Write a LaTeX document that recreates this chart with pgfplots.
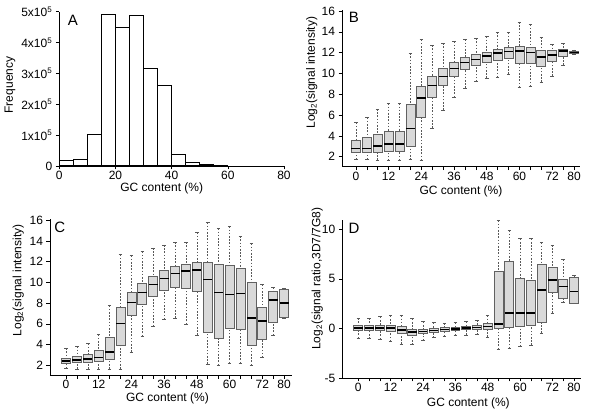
\documentclass[border=0pt]{standalone}
\usepackage{fontspec}
\setmainfont{Liberation Sans}
\usepackage{pgfplots}
\pgfplotsset{compat=1.18}
\usepgfplotslibrary{statistics}

\definecolor{boxfill}{gray}{0.85}
\definecolor{boxedge}{gray}{0.38}
\definecolor{whisk}{gray}{0.35}

\tikzset{
  whline/.style={whisk, line width=0.6pt, dash pattern=on 1.6pt off 1.6pt},
  capline/.style={whisk, line width=0.6pt},
}

\pgfplotsset{
  panel/.style={
    scale only axis, anchor=south west,
    axis x line*=bottom, axis y line*=left,
    axis line style={-, line width=0.7pt},
    tick align=outside, major tick length=3.5pt,
    tick style={black, line width=0.6pt},
    font=\fontsize{12}{14}\selectfont,
    /pgf/number format/assume math mode=true,
    xticklabel style={inner sep=1.5pt},
    xlabel style={anchor=center, inner sep=0pt},
    ylabel style={anchor=center, inner sep=0pt},
    clip=false,
  },
  bxpanel/.style={
    panel,
    xtick={0,4,...,80},
    xticklabels={0,{},{},12,{},{},24,{},{},36,{},{},48,{},{},60,{},{},72,{},80},
    xlabel={GC content (\%)},
    boxplot/draw direction=y,
    boxplot/box extend=3.3,
    boxplot/whisker extend=1.3,
    boxplot/every box/.style={draw=boxedge, fill=boxfill, line width=0.7pt},
    boxplot/every median/.style={black, line width=1.6pt},
    boxplot/draw/lower whisker/.code={%
      \draw[whline] (boxplot box cs:\pgfplotsboxplotvalue{lower whisker},0.5)
        -- (boxplot box cs:\pgfplotsboxplotvalue{lower quartile},0.5);
      \draw[capline] (boxplot whisker cs:\pgfplotsboxplotvalue{lower whisker},0)
        -- (boxplot whisker cs:\pgfplotsboxplotvalue{lower whisker},1);
    },
    boxplot/draw/upper whisker/.code={%
      \draw[whline] (boxplot box cs:\pgfplotsboxplotvalue{upper whisker},0.5)
        -- (boxplot box cs:\pgfplotsboxplotvalue{upper quartile},0.5);
      \draw[capline] (boxplot whisker cs:\pgfplotsboxplotvalue{upper whisker},0)
        -- (boxplot whisker cs:\pgfplotsboxplotvalue{upper whisker},1);
    },
  },
}

% one box: position, lower whisker, lower quartile, median, upper quartile, upper whisker
\newcommand\bx[6]{%
  \addplot[boxplot prepared={draw position=#1, lower whisker=#2,
    lower quartile=#3, median=#4, upper quartile=#5, upper whisker=#6}]
    coordinates {};}

\begin{document}
\begin{tikzpicture}
\useasboundingbox (0,0) rectangle (600pt,414pt);

% A: histogram
\begin{axis}[panel,
  at={(59.3pt,248pt)}, width=224.7pt, height=154.3pt,
  xmin=0, xmax=80, ymin=0, ymax=5e5,
  xtick={0,20,...,80},
  ytick={0,1e5,2e5,3e5,4e5,5e5},
  yticklabels={0,1x10\textsuperscript{5},2x10\textsuperscript{5},3x10\textsuperscript{5},4x10\textsuperscript{5},5x10\textsuperscript{5}},
  scaled y ticks=false,
  xlabel={GC content (\%)}, ylabel={Frequency},
  xlabel style={at={(axis description cs:0.456,-0.146)}},
  ylabel style={at={(axis description cs:-0.219,0.525)}},
]
\addplot[ybar interval, fill=white, draw=black, line width=1pt] coordinates {
  (0,1.8e4) (5,2.1e4) (10,1.02e5) (15,4.91e5) (20,4.48e5) (25,4.88e5)
  (30,3.15e5) (35,2.61e5) (40,3.6e4) (45,1.1e4) (50,4e3) (55,2e3) (60,0)
};
\node[font=\fontsize{15}{16}\selectfont] at (axis description cs:0.06,0.942) {A};
\end{axis}

% B
\begin{axis}[bxpanel,
  at={(342pt,247.3pt)}, width=238pt, height=156.7pt,
  xmin=-5.1, xmax=82.2, ymin=1.04, ymax=16.1,
  ytick={2,4,...,16},
  ylabel={Log\textsubscript{2}(signal intensity)},
  xlabel style={at={(axis description cs:0.5,-0.16)}},
  ylabel style={at={(axis description cs:-0.127,0.6)}},
]
\bx{0}{1.74}{2.42}{2.80}{3.54}{5.27}
\bx{4}{1.74}{2.42}{2.80}{3.86}{5.75}
\bx{8}{1.68}{2.42}{3.03}{4.12}{6.58}
\bx{12}{1.62}{2.54}{3.22}{4.40}{7.13}
\bx{16}{1.65}{2.54}{3.22}{4.40}{7.13}
\bx{20}{1.71}{3.03}{4.72}{7.03}{11.94}
\bx{24}{1.65}{5.78}{7.67}{8.79}{13.25}
\bx{28}{4.76}{7.67}{8.83}{9.72}{12.71}
\bx{32}{6.49}{8.86}{9.72}{10.49}{12.90}
\bx{36}{7.71}{9.76}{10.49}{11.07}{13.09}
\bx{40}{8.60}{10.40}{11.07}{11.55}{13.28}
\bx{44}{9.21}{10.78}{11.36}{11.84}{13.38}
\bx{48}{9.56}{11.10}{11.65}{12.03}{13.57}
\bx{52}{9.63}{11.29}{11.97}{12.32}{13.96}
\bx{56}{9.95}{11.49}{12.13}{12.48}{13.92}
\bx{60}{8.67}{11.00}{12.16}{12.58}{14.95}
\bx{64}{8.76}{11.00}{12.03}{12.51}{14.69}
\bx{68}{9.18}{10.72}{11.58}{12.26}{13.50}
\bx{72}{9.76}{11.17}{11.78}{12.19}{12.80}
\bx{76}{10.81}{11.68}{12.16}{12.32}{12.90}
\bx{80}{11.87}{11.94}{12.03}{12.16}{12.26}
\node[font=\fontsize{15}{16}\selectfont] at (axis description cs:0.05,0.955) {B};
\end{axis}

% C
\begin{axis}[bxpanel,
  at={(50pt,38.7pt)}, width=241.7pt, height=156.6pt,
  xmin=-5.87, xmax=82.8, ymin=1.03, ymax=16.16,
  ytick={2,4,...,16},
  ylabel={Log\textsubscript{2}(signal intensity)},
  xlabel style={at={(axis description cs:0.486,-0.149)}},
  ylabel style={at={(axis description cs:-0.131,0.607)}},
]
\bx{0}{1.68}{2.23}{2.42}{2.71}{3.64}
\bx{4}{1.65}{2.29}{2.48}{2.84}{3.83}
\bx{8}{1.65}{2.32}{2.58}{3.03}{4.09}
\bx{12}{1.65}{2.42}{2.74}{3.42}{4.96}
\bx{16}{1.65}{2.61}{3.29}{4.67}{7.76}
\bx{20}{1.65}{3.93}{6.02}{7.57}{12.69}
\bx{24}{3.29}{6.80}{8.08}{9.08}{12.59}
\bx{28}{4.80}{7.89}{9.02}{9.89}{13.00}
\bx{32}{5.77}{8.66}{9.79}{10.59}{13.33}
\bx{36}{6.44}{9.24}{10.40}{11.17}{13.62}
\bx{40}{6.57}{9.53}{10.88}{11.56}{13.88}
\bx{44}{5.96}{9.43}{11.10}{11.75}{13.88}
\bx{48}{4.93}{9.14}{11.20}{11.91}{14.84}
\bx{52}{2.13}{5.17}{10.27}{11.91}{15.80}
\bx{56}{2.00}{4.64}{9.02}{11.75}{15.23}
\bx{60}{2.19}{5.57}{8.82}{11.66}{15.42}
\bx{64}{2.19}{5.48}{8.95}{11.37}{14.46}
\bx{68}{2.00}{3.96}{6.57}{10.05}{13.78}
\bx{72}{2.74}{4.51}{6.28}{7.57}{9.79}
\bx{76}{4.90}{6.15}{8.30}{9.11}{9.53}
\bx{80}{6.50}{6.60}{8.04}{9.34}{9.40}
\node[font=\fontsize{15}{16}\selectfont] at (axis description cs:0.041,0.943) {C};
\end{axis}

% D
\begin{axis}[bxpanel,
  at={(342.3pt,36pt)}, width=238.7pt, height=158.3pt,
  xmin=-5.93, xmax=82.6, ymin=-5, ymax=10.97,
  ytick={-5,0,5,10},
  ylabel={Log\textsubscript{2}(signal ratio,3D7/7G8)},
  xlabel style={at={(axis description cs:0.528,-0.162)}},
  ylabel style={at={(axis description cs:-0.105,0.627)}},
]
\bx{0}{-0.98}{-0.17}{0.07}{0.34}{1.04}
\bx{4}{-1.04}{-0.20}{0.07}{0.34}{1.04}
\bx{8}{-1.08}{-0.24}{0.07}{0.34}{1.18}
\bx{12}{-1.31}{-0.30}{0.03}{0.30}{1.28}
\bx{16}{-1.58}{-0.47}{-0.17}{0.20}{1.31}
\bx{20}{-1.65}{-0.67}{-0.37}{-0.07}{0.98}
\bx{24}{-1.21}{-0.54}{-0.30}{-0.07}{0.67}
\bx{28}{-0.94}{-0.40}{-0.20}{0.00}{0.57}
\bx{32}{-0.81}{-0.27}{-0.10}{0.10}{0.54}
\bx{36}{-0.71}{-0.20}{-0.03}{0.13}{0.57}
\bx{40}{-0.67}{-0.13}{0.03}{0.20}{0.71}
\bx{44}{-0.64}{-0.07}{0.10}{0.30}{0.84}
\bx{48}{-0.87}{-0.10}{0.20}{0.50}{1.31}
\bx{52}{-2.09}{0.00}{0.44}{5.72}{10.90}
\bx{56}{-2.02}{0.10}{1.55}{6.73}{9.89}
\bx{60}{-1.82}{0.20}{1.55}{5.05}{9.05}
\bx{64}{-1.68}{0.30}{1.55}{4.84}{9.05}
\bx{68}{-0.47}{0.57}{3.87}{6.42}{8.68}
\bx{72}{1.55}{3.63}{4.88}{6.12}{8.41}
\bx{76}{2.62}{2.99}{4.24}{4.94}{6.94}
\bx{80}{2.56}{2.56}{3.73}{5.11}{5.31}
\node[font=\fontsize{15}{16}\selectfont] at (axis description cs:0.049,0.946) {D};
\end{axis}
\end{tikzpicture}
\end{document}
